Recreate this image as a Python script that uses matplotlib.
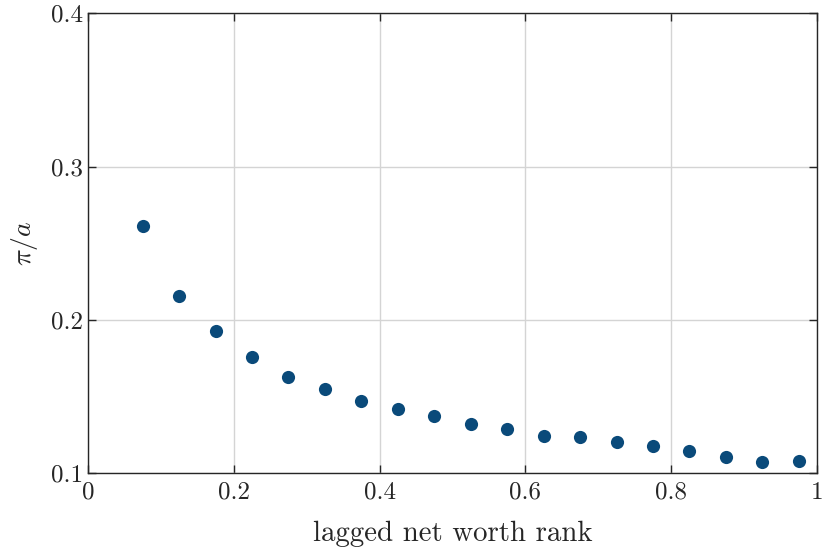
import matplotlib
matplotlib.use('Agg')
import matplotlib.pyplot as plt

plt.rcParams['font.family'] = 'serif'
plt.rcParams['font.serif'] = ['cmr10']
plt.rcParams['mathtext.fontset'] = 'cm'
plt.rcParams['axes.formatter.use_mathtext'] = True

# lagged net worth rank (bin midpoints) and pi/a
rank = [0.075, 0.125, 0.175, 0.225, 0.275, 0.325, 0.375, 0.425, 0.475, 0.525,
        0.575, 0.625, 0.675, 0.725, 0.775, 0.825, 0.875, 0.925, 0.975]
pi_a = [0.261, 0.2155, 0.193, 0.176, 0.1626, 0.1548, 0.147, 0.1417, 0.1372, 0.132,
        0.1287, 0.1241, 0.1235, 0.1202, 0.1176, 0.1144, 0.1104, 0.1072, 0.1078]

xticks = [0, 0.2, 0.4, 0.6, 0.8, 1]
xticklabels = ['0', '0.2', '0.4', '0.6', '0.8', '1']
yticks = [0.1, 0.2, 0.3, 0.4]
yticklabels = ['0.1', '0.2', '0.3', '0.4']

fig = plt.figure(figsize=(8.22, 5.52), dpi=100)
ax = fig.add_axes([0.107, 0.143, 0.887, 0.833])

ax.scatter(rank, pi_a, s=90, color='#0A4A7A', zorder=3, linewidths=0)

ax.set_xlim(0, 1)
ax.set_ylim(0.1, 0.4)
ax.set_xticks(xticks)
ax.set_xticklabels(xticklabels)
ax.set_yticks(yticks)
ax.set_yticklabels(yticklabels)
ax.grid(True, color='#d4d4d4', linewidth=1.0)
ax.set_axisbelow(True)
ax.tick_params(direction='in', length=6, width=1.0, labelsize=18, colors='#262626',
               top=True, right=True)
ax.tick_params(axis='x', pad=6)
for s in ax.spines.values():
    s.set_color('#262626')
    s.set_linewidth(1.0)

ax.set_xlabel('lagged net worth rank', fontsize=20.8, color='#262626', labelpad=12)
ax.set_ylabel(r'$\pi/a$', fontsize=20, color='#262626', labelpad=8)

plt.savefig('out.png', dpi=100)
